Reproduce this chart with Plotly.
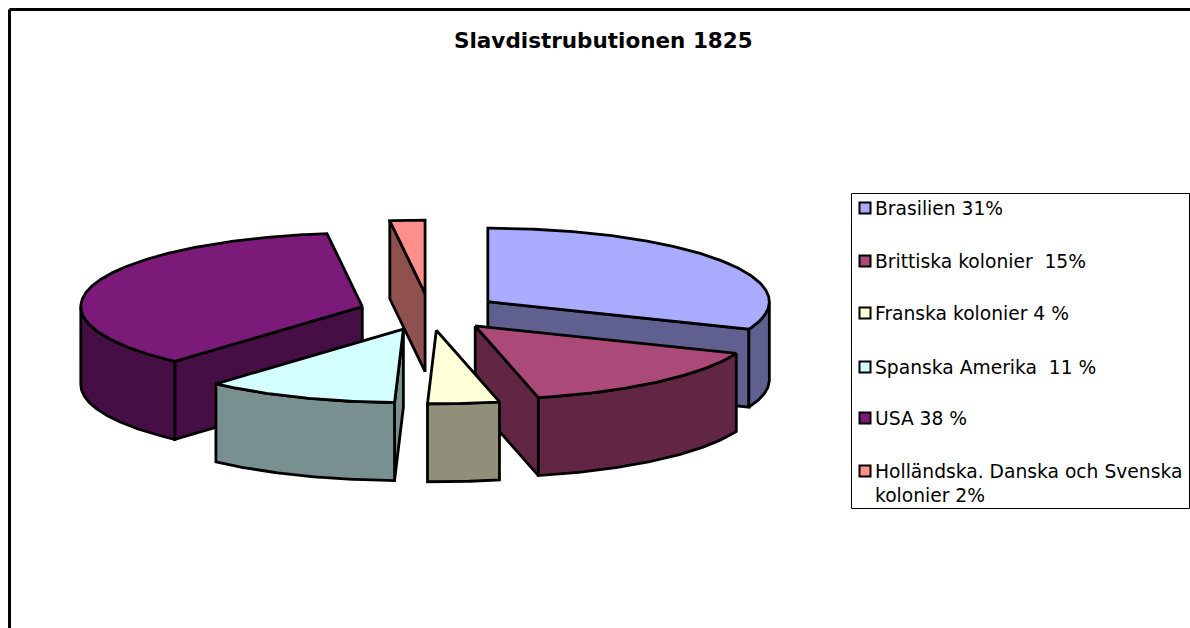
import math
import plotly.graph_objects as go

# --- data -------------------------------------------------------------
title = "Slavdistrubutionen 1825"
labels = ["Brasilien 31%", "Brittiska kolonier  15%", "Franska kolonier 4 %",
          "Spanska Amerika  11 %", "USA 38 %",
          "Holländska. Danska och Svenska<br>kolonier 2%"]
# shares (per cent)
shares = [31.1, 15.3, 4.1, 11.1, 36.4, 2.0]
top_colors = ["#A9ABFF", "#AB4A78", "#FFFFD8", "#D4FFFF", "#7B1A78", "#FF8F8A"]
side_colors = ["#5F6090", "#602644", "#90907A", "#789090", "#450E44", "#90504E"]

# --- geometry of the tilted pie (pixel-like axes) --------------------
CX, CY, RX, RY, DEPTH, EXPLODE = 429.5, 312.0, 281.5, 73.5, 78.0, 0.25
FONT = "DejaVu Sans"
draw_order = [5, 0, 4, 3, 1, 2]

total = sum(shares)
bounds = [0.0]
for s in shares:
    bounds.append(bounds[-1] + s / total * 360.0)


def pt(ax, ay, deg, depth=0.0):
    r = math.radians(deg)
    return ax + RX * math.sin(r), ay - RY * math.cos(r) + depth


def arc(ax, ay, a0, a1, depth=0.0):
    n = max(2, int(abs(a1 - a0) * 2))
    return [pt(ax, ay, a0 + (a1 - a0) * i / n, depth) for i in range(n + 1)]


fig = go.Figure()


def poly(points, fill, name):
    xs = [p[0] for p in points] + [points[0][0]]
    ys = [p[1] for p in points] + [points[0][1]]
    fig.add_trace(go.Scatter(x=xs, y=ys, mode="lines", fill="toself", fillcolor=fill,
                             line=dict(color="#000000", width=2.8), name=name,
                             hoverinfo="name", showlegend=False))


for i in draw_order:
    a0, a1 = bounds[i], bounds[i + 1]
    mid = math.radians((a0 + a1) / 2)
    ax = CX + EXPLODE * RX * math.sin(mid)
    ay = CY - EXPLODE * RY * math.cos(mid)
    name = labels[i].replace("<br>", " ")
    # radial cut faces that turn towards the viewer
    if math.sin(math.radians(a0)) < -1e-6:
        e = pt(ax, ay, a0)
        poly([(ax, ay), e, (e[0], e[1] + DEPTH), (ax, ay + DEPTH)], side_colors[i], name)
    if math.sin(math.radians(a1)) > 1e-6:
        e = pt(ax, ay, a1)
        poly([(ax, ay), e, (e[0], e[1] + DEPTH), (ax, ay + DEPTH)], side_colors[i], name)
    # outer wall: the part of the rim on the near half
    w0, w1 = max(a0, 90.0), min(a1, 270.0)
    if w1 > w0:
        upper = arc(ax, ay, w0, w1)
        lower = arc(ax, ay, w1, w0, DEPTH)
        poly(upper + lower, side_colors[i], name)
    # top face
    poly([(ax, ay)] + arc(ax, ay, a0, a1), top_colors[i], name)

# --- legend -----------------------------------------------------------
legend_swatch_y = [208, 261, 313, 367, 418, 471]
legend_text_y = [210, 263, 315, 369, 420, 485]
fig.add_trace(go.Scatter(x=[865] * len(labels), y=legend_swatch_y, mode="markers",
                         marker=dict(symbol="square", size=11, color=top_colors,
                                     line=dict(color="#000000", width=2)),
                         hoverinfo="skip", showlegend=False))
fig.add_trace(go.Scatter(x=[875] * len(labels), y=legend_text_y, mode="text",
                         text=labels, textposition="middle right",
                         textfont=dict(family=FONT, size=18.7, color="#000000"),
                         hoverinfo="skip", showlegend=False))

shapes = [
    dict(type="rect", x0=851.5, y0=193.5, x1=1189.5, y1=508.5,
         line=dict(color="#000000", width=1), layer="below"),
    dict(type="line", x0=9.5, y0=9.5, x1=1195, y1=9.5, line=dict(color="#000000", width=3)),
    dict(type="line", x0=9.5, y0=9.5, x1=9.5, y1=635, line=dict(color="#000000", width=3)),
]

fig.update_layout(
    width=1190, height=628, margin=dict(l=0, r=0, t=0, b=0),
    paper_bgcolor="#FFFFFF", plot_bgcolor="#FFFFFF", showlegend=False,
    xaxis=dict(range=[0, 1190], visible=False, fixedrange=True),
    yaxis=dict(range=[628, 0], visible=False, fixedrange=True),
    shapes=shapes,
    annotations=[dict(text="<b>%s</b>" % title, x=603.5, y=40, xref="x", yref="y",
                      xanchor="center", yanchor="middle", showarrow=False,
                      font=dict(family=FONT, size=21.5, color="#000000"))],
)
fig.write_html("out.html", config={"displayModeBar": False},
               post_script="document.body.style.margin='0';document.body.style.overflow='hidden';")
